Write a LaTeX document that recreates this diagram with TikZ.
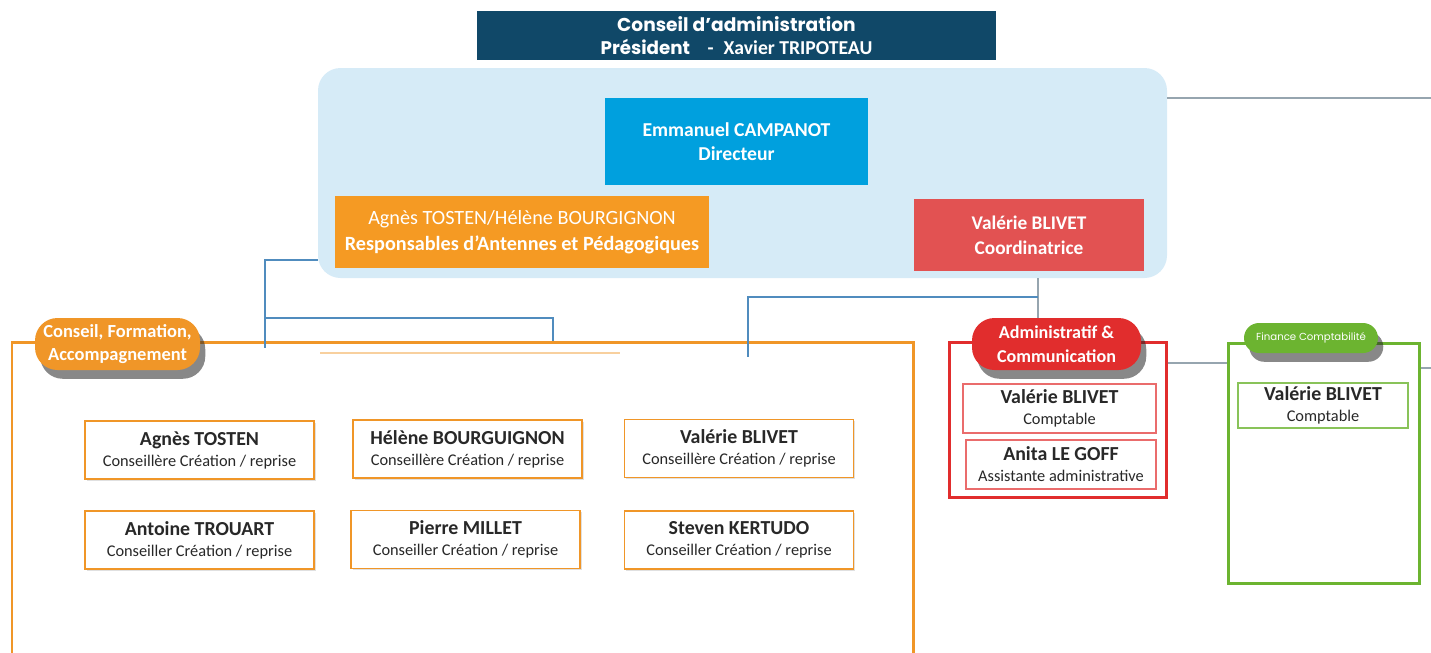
\documentclass[tikz,border=0pt]{standalone}
\usepackage{fontspec}
\setmainfont{Carlito}
\newfontfamily\gothic{Poppins}
\usetikzlibrary{shadows,calc}

\definecolor{boardnavy}{RGB}{16,72,104}
\definecolor{bandblue}{RGB}{214,235,247}
\definecolor{dirblue}{RGB}{0,160,222}
\definecolor{respor}{RGB}{245,154,35}
\definecolor{coordred}{RGB}{226,82,82}
\definecolor{frameor}{RGB}{240,150,40}
\definecolor{admred}{RGB}{225,45,45}
\definecolor{fingreen}{RGB}{108,180,48}
\definecolor{linkblue}{RGB}{80,140,190}
\definecolor{linkgray}{RGB}{150,165,175}
\definecolor{txtdark}{RGB}{40,40,40}

\newcommand{\persname}[1]{{\bfseries\fontsize{11.3}{13}\selectfont #1}}
\newcommand{\persrole}[1]{{\fontsize{9.3}{11}\selectfont #1}}

\tikzset{
	pillshadow/.style={drop shadow={shadow xshift=3pt, shadow yshift=-5pt, fill=black!85, opacity=0.55}},
	pill/.style={rounded corners=0.45cm, text=white, align=center, inner sep=0pt, pillshadow},
	persbox/.style={draw=frameor, line width=1.1pt, fill=white, text=txtdark, align=center,
		minimum width=4.58cm, minimum height=1.16cm, inner sep=0pt,
		drop shadow={shadow xshift=1pt, shadow yshift=-1pt, fill=black!30, opacity=0.4}},
	link/.style={linkblue, line width=0.8pt},
	linkg/.style={linkgray, line width=0.8pt}
}

\begin{document}
\begin{tikzpicture}[y={(0,-1cm)}]
	\useasboundingbox (0,0) rectangle (28.62,13.04);
	\clip (0,0) rectangle (28.62,13.04);
	
	% ==========================================
	% 1. Board and management band
	% ==========================================
	\node[fill=boardnavy, text=white, minimum width=10.38cm, minimum height=0.98cm, align=center, inner sep=0pt] (board) at (14.73,0.71)
	{{\gothic\bfseries\fontsize{10.6}{11}\selectfont Conseil d’administration}\\[1pt]
		{\gothic\bfseries\fontsize{10.4}{11}\selectfont Président}\quad{\bfseries\fontsize{11.2}{11}\selectfont -\; Xavier TRIPOTEAU}};
	
	\node[fill=bandblue, rounded corners=0.45cm, minimum width=16.98cm, minimum height=4.2cm] (band) at (14.85,3.46) {};
	
	\node[fill=dirblue, text=white, minimum width=5.26cm, minimum height=1.74cm, align=center, font=\bfseries\fontsize{11.2}{14}\selectfont] (dir) at (14.73,2.83)
	{Emmanuel CAMPANOT\\Directeur};
	
	\node[fill=respor, text=white, minimum width=7.48cm, minimum height=1.44cm, align=center, font=\fontsize{11.5}{14.5}\selectfont] (resp) at (10.44,4.64)
	{Agnès TOSTEN/Hélène BOURGIGNON\\\bfseries Responsables d’Antennes et Pédagogiques};
	
	\node[fill=coordred, text=white, minimum width=4.6cm, minimum height=1.44cm, align=center, font=\bfseries\fontsize{11}{14}\selectfont] (coord) at (20.58,4.70)
	{Valérie BLIVET\\Coordinatrice};
	
	% ==========================================
	% 2. Conseil, Formation, Accompagnement
	% ==========================================
	\node[draw=frameor, line width=1.7pt, minimum width=18.02cm, minimum height=6.46cm] (conframe) at (9.25,10.07) {};
	\node[pill, fill=frameor, minimum width=3.3cm, minimum height=1.04cm, font=\bfseries\fontsize{10.5}{13.5}\selectfont] (conpill) at (2.35,6.88)
	{Conseil, Formation,\\Accompagnement};
	
	\node[persbox] (tosten) at (3.99,9.0) {\persname{Agnès TOSTEN}\\\persrole{Conseillère Création / reprise}};
	\node[persbox] (bourg) at (9.35,8.98) {\persname{Hélène BOURGUIGNON}\\\persrole{Conseillère Création / reprise}};
	\node[persbox] (blivet) at (14.78,8.97) {\persname{Valérie BLIVET}\\\persrole{Conseillère Création / reprise}};
	\node[persbox] (trouart) at (3.99,10.8) {\persname{Antoine TROUART}\\\persrole{Conseiller Création / reprise}};
	\node[persbox] (millet) at (9.31,10.79) {\persname{Pierre MILLET}\\\persrole{Conseiller Création / reprise}};
	\node[persbox] (kertudo) at (14.78,10.8) {\persname{Steven KERTUDO}\\\persrole{Conseiller Création / reprise}};
	
	\draw[frameor!45, line width=0.8pt] (6.4,7.06) -- (12.4,7.06);
	
	% ==========================================
	% 3. Administratif & Communication
	% ==========================================
	\node[draw=admred, line width=1.7pt, minimum width=4.34cm, minimum height=3.1cm] (admframe) at (21.15,8.39) {};
	\node[pill, fill=admred, minimum width=3.38cm, minimum height=1.04cm, font=\bfseries\fontsize{10.3}{13.5}\selectfont] (admpill) at (21.13,6.88)
	{Administratif \&\\Communication};
	\node[draw=admred!70, line width=0.8pt, fill=white, text=txtdark, align=center, minimum width=3.86cm, minimum height=0.98cm, inner sep=0pt] (admcompt) at (21.19,8.17)
	{\persname{Valérie BLIVET}\\\persrole{Comptable}};
	\node[draw=admred!70, line width=0.8pt, fill=white, text=txtdark, align=center, minimum width=3.8cm, minimum height=0.98cm, inner sep=0pt] (admassist) at (21.22,9.29)
	{\persname{Anita LE GOFF}\\\persrole{Assistante administrative}};
	
	% ==========================================
	% 4. Finance Comptabilité
	% ==========================================
	\node[draw=fingreen, line width=1.7pt, minimum width=3.82cm, minimum height=4.8cm] (finframe) at (26.47,9.26) {};
	\node[pill, fill=fingreen, rounded corners=0.3cm, minimum width=2.68cm, minimum height=0.6cm, font=\gothic\fontsize{5.8}{7}\selectfont] (finpill) at (26.22,6.76)
	{Finance Comptabilité};
	\node[draw=fingreen!80, line width=0.8pt, fill=white, text=txtdark, align=center, minimum width=3.4cm, minimum height=0.9cm, inner sep=0pt] (fincompt) at (26.46,8.11)
	{\persname{Valérie BLIVET}\\\persrole{Comptable}};
	
	% ==========================================
	% 5. Connectors
	% ==========================================
	\coordinate (tr) at (28.62,1.96);
	\draw[linkg] (band.east |- tr) -- (tr);
	
	\coordinate (lk) at (5.3,5.2);
	\coordinate (lkend) at (5.3,6.96);
	\coordinate (lb) at (5.3,6.36);
	\coordinate (lc) at (11.06,6.36);
	\draw[link] (band.west |- lk) -- (lk) -- (lkend);
	\draw[link] (lb) -- (lc) -- (lc |- conframe.north);
	
	\coordinate (cj) at (20.76,5.94);
	\coordinate (ck) at (14.96,5.94);
	\coordinate (ckend) at (14.96,7.14);
	\draw[linkg] (band.south -| cj) -- (admpill.north -| cj);
	\draw[link] (cj) -- (ck) -- (ckend);
	
	\coordinate (gl) at (0,7.26);
	\coordinate (gr) at (28.62,7.36);
	\draw[linkg] (admframe.east |- gl) -- (finframe.west |- gl);
	\draw[linkg] (finframe.east |- gr) -- (gr);
	
\end{tikzpicture}
\end{document}
